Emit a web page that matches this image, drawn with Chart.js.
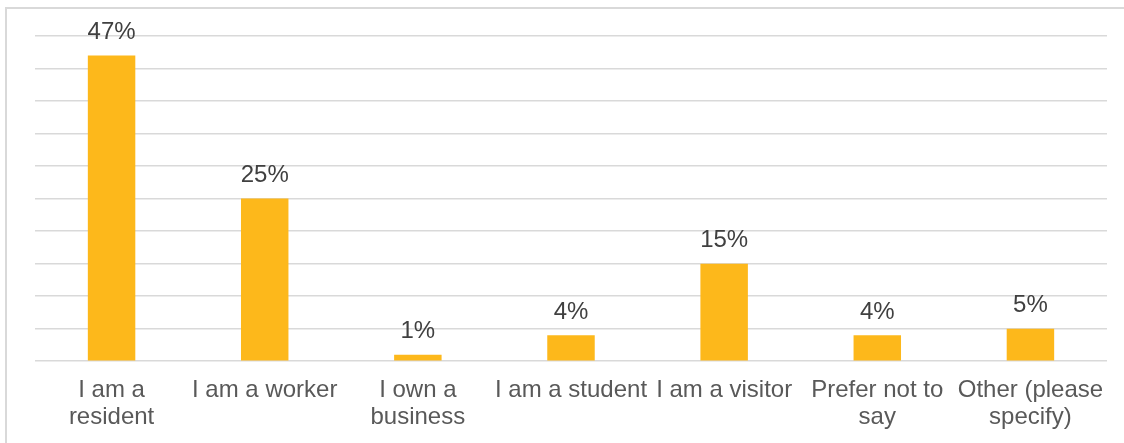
<!DOCTYPE html>
<html>
<head>
<meta charset="utf-8">
<script src="https://cdn.jsdelivr.net/npm/chart.js@4/dist/chart.umd.min.js"></script>
<style>
  body { margin: 0; background: #fff; overflow: hidden; }
  #frame {
    position: absolute; left: 5px; top: 7px;
    width: 1200px; height: 500px;
    border: 2px solid #d9d9d9;
  }
  #chart { position: absolute; left: 0; top: 0; }
</style>
</head>
<body>
<div id="frame"></div>
<canvas id="chart" width="1124" height="443"></canvas>
<script>
// respondent type, share of answers (%)
const categories = [
  ['I am a', 'resident'],
  'I am a worker',
  ['I own a', 'business'],
  'I am a student',
  'I am a visitor',
  ['Prefer not to', 'say'],
  ['Other (please', 'specify)']
];
const shares = [47, 25, 1, 4, 15, 4, 5];

const axisMax = 50;
const axisStep = 5;

// draws the "NN%" label above every bar
const valueLabels = {
  id: 'valueLabels',
  afterDatasetsDraw(chart) {
    const ctx = chart.ctx;
    const meta = chart.getDatasetMeta(0);
    ctx.save();
    ctx.font = '24px "Liberation Sans", Arial, sans-serif';
    ctx.fillStyle = '#404040';
    ctx.textAlign = 'center';
    ctx.textBaseline = 'alphabetic';
    meta.data.forEach((bar, i) => {
      ctx.fillText(shares[i] + '%', bar.x, bar.y - 16.5);
    });
    ctx.restore();
  }
};

const ctx = document.getElementById('chart').getContext('2d');
new Chart(ctx, {
  type: 'bar',
  data: {
    labels: categories,
    datasets: [{
      data: shares,
      backgroundColor: '#fdb81b',
      borderWidth: 0,
      categoryPercentage: 1,
      barPercentage: 0.31
    }]
  },
  options: {
    responsive: false,
    animation: false,
    layout: { padding: { left: 35, right: 17, top: 36, bottom: 4 } },
    plugins: {
      legend: { display: false },
      tooltip: { enabled: false }
    },
    scales: {
      x: {
        grid: { display: false },
        border: { display: false },
        ticks: {
          color: '#595959',
          padding: 8,
          maxRotation: 0,
          autoSkip: false,
          font: { family: '"Liberation Sans", Arial, sans-serif', size: 24, lineHeight: 1.12 }
        }
      },
      y: {
        min: 0,
        max: axisMax,
        border: { display: false },
        grid: { color: '#d9d9d9', lineWidth: 1.5, drawTicks: false },
        ticks: { display: false, stepSize: axisStep }
      }
    }
  },
  plugins: [valueLabels]
});
</script>
</body>
</html>
